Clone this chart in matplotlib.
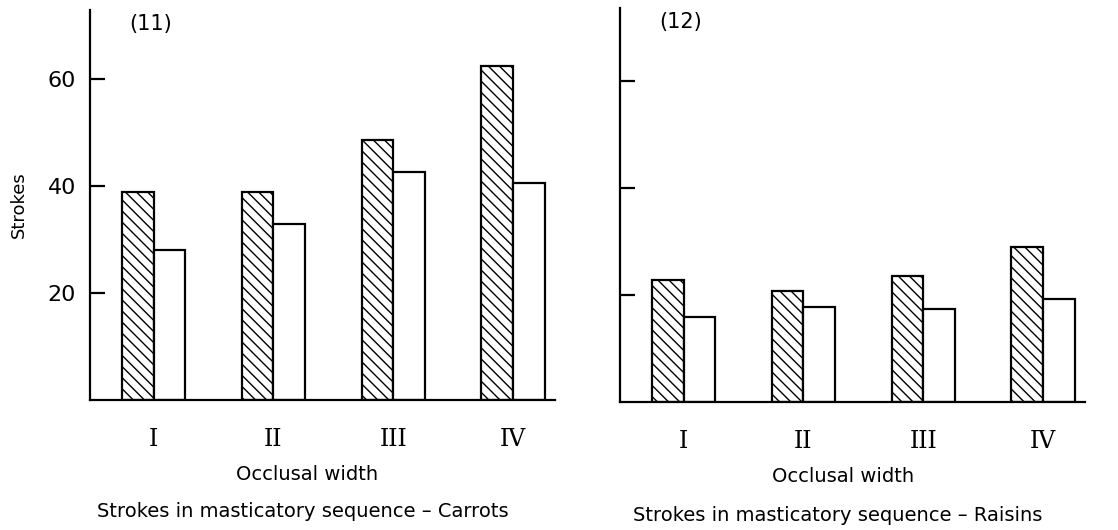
import matplotlib
matplotlib.use("Agg")
import matplotlib.pyplot as plt
import numpy as np

categories = ["I", "II", "III", "IV"]
carrots_a = [39, 39, 48.7, 62.5]   # hatched bars
carrots_b = [28, 33, 42.7, 40.7]   # open bars
raisins_a = [22.8, 20.7, 23.6, 29.0]
raisins_b = [15.9, 17.7, 17.3, 19.3]
yticks = [20, 40, 60]

plt.rcParams['hatch.linewidth'] = 1.0
plt.rcParams['font.family'] = 'DejaVu Sans'

fig = plt.figure(figsize=(11.18, 5.30), dpi=100)
ax1 = fig.add_axes([0.0805, 0.2453, 0.416, 0.736])
ax2 = fig.add_axes([0.5546, 0.2415, 0.416, 0.743])

w = 0.265
x = np.arange(len(categories))


def draw_panel(ax, a, b, tag, title, ylim, show_labels, lab_x, title_x):
    ax.bar(x - w / 2, a, width=w, facecolor='white', edgecolor='black',
           hatch='\\\\\\', linewidth=1.6)
    ax.bar(x + w / 2, b, width=w, facecolor='white', edgecolor='black',
           linewidth=1.6)
    ax.set_xlim(-0.53, 3.35)
    ax.set_ylim(0, ylim)
    for s in ['top', 'right']:
        ax.spines[s].set_visible(False)
    for s in ['left', 'bottom']:
        ax.spines[s].set_linewidth(1.6)
    ax.set_yticks(yticks)
    ax.set_yticklabels([str(v) for v in yticks] if show_labels else [])
    ax.tick_params(axis='y', direction='in', length=11, width=1.6,
                   labelsize=16, pad=10)
    ax.set_xticks(x)
    ax.set_xticklabels(categories, family='DejaVu Serif', fontsize=17)
    ax.tick_params(axis='x', length=0, pad=20)
    ax.set_xlabel('Occlusal width', fontsize=14, labelpad=10)
    ax.xaxis.label.set_x(lab_x)
    ax.text(0.085, 0.99, tag, transform=ax.transAxes, fontsize=15,
            ha='left', va='top')
    ax.text(title_x, -0.287, title, transform=ax.transAxes, fontsize=14,
            ha='center', va='center')


draw_panel(ax1, carrots_a, carrots_b, '(11)',
           'Strokes in masticatory sequence \u2013 Carrots', 73, True,
           0.467, 0.458)
draw_panel(ax2, raisins_a, raisins_b, '(12)',
           'Strokes in masticatory sequence \u2013 Raisins', 73.6, False,
           0.48, 0.469)
ax1.set_ylabel('Strokes', fontsize=13, labelpad=14)

fig.savefig('out.png', dpi=100, facecolor='white')
plt.close(fig)
